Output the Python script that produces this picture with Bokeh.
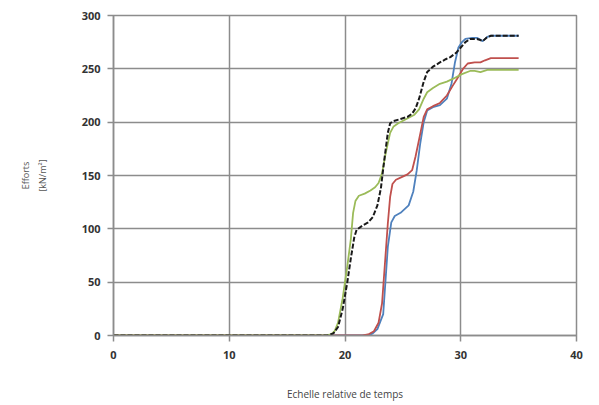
from bokeh.plotting import figure
from bokeh.models import Range1d, FixedTicker, Title
from bokeh.embed import file_html
from bokeh.resources import INLINE

# ---- data ----
x_ticks = [0, 10, 20, 30, 40]
y_ticks = [0, 50, 100, 150, 200, 250, 300]
y_label_lines = ["Efforts", "[kN/m²]"]
x_label = "Echelle relative de temps"

blue_x = [0, 22.0, 22.4, 22.8, 23.3, 23.7, 24.0, 24.3, 24.8, 25.5, 25.9, 26.2, 26.5, 26.8, 27.1, 27.6, 28.2, 28.8, 29.2, 29.5, 29.8, 30.1, 30.4, 31.0, 31.4, 31.9, 32.3, 32.6, 35]
blue_y = [0, 0, 2, 6, 20, 83, 106, 112, 115, 122, 135, 155, 180, 200, 211, 214, 216, 222, 236, 256, 270, 275, 278, 279, 279, 276, 280, 281, 281]

red_x = [0, 21.5, 22.0, 22.5, 22.9, 23.2, 23.5, 23.7, 23.9, 24.1, 24.4, 24.8, 25.4, 25.8, 26.1, 26.5, 26.8, 27.1, 27.6, 28.2, 28.8, 29.3, 29.7, 30.2, 30.6, 31.2, 31.7, 32.1, 32.6, 35]
red_y = [0, 0, 1, 4, 12, 30, 75, 105, 130, 142, 146, 148, 151, 155, 168, 189, 205, 212, 215, 218, 225, 234, 241, 250, 255, 256, 256, 258, 260, 260]

green_x = [0, 18.3, 18.8, 19.1, 19.4, 19.8, 20.2, 20.5, 20.7, 20.9, 21.2, 21.7, 22.2, 22.6, 22.9, 23.2, 23.5, 23.9, 24.2, 24.6, 25.3, 26.0, 26.4, 26.8, 27.1, 27.6, 28.2, 28.8, 29.4, 30.1, 30.8, 31.2, 31.7, 32.3, 35]
green_y = [0, 0, 1, 4, 12, 35, 65, 90, 115, 126, 131, 133, 136, 139, 143, 152, 170, 190, 196, 199, 203, 207, 212, 222, 228, 232, 236, 238, 241, 245, 248, 248, 247, 249, 249]

black_x = [0, 18.5, 19.0, 19.4, 19.8, 20.2, 20.5, 20.8, 21.0, 21.5, 22.0, 22.4, 22.8, 23.1, 23.4, 23.7, 23.9, 24.2, 24.8, 25.4, 25.8, 26.1, 26.4, 26.8, 27.1, 27.6, 28.2, 28.7, 29.1, 29.6, 30.0, 30.4, 30.8, 31.4, 31.7, 31.9, 32.2, 32.6, 35]
black_y = [0, 0, 2, 8, 25, 50, 72, 92, 99, 103, 106, 111, 122, 138, 165, 190, 199, 201, 203, 205, 208, 213, 222, 238, 247, 252, 256, 259, 261, 265, 270, 275, 278, 278, 277, 276, 279, 281, 281]

p = figure(width=599, height=405, output_backend="svg", toolbar_location=None,
           x_range=Range1d(0, 40), y_range=Range1d(0, 300),
           min_border_left=113, min_border_right=23, min_border_top=15, min_border_bottom=70)

p.background_fill_color = "white"
p.border_fill_color = "white"
p.outline_line_color = "#8c8c8c"
p.outline_line_width = 1.5

for ax in (p.xaxis[0], p.yaxis[0]):
    ax.axis_line_color = "#8c8c8c"
    ax.axis_line_width = 1.5
    ax.major_tick_line_color = "#8c8c8c"
    ax.major_tick_line_width = 1.5
    ax.major_tick_out = 6
    ax.major_tick_in = 0
    ax.minor_tick_line_color = None
    ax.major_label_text_font = "Open Sans"
    ax.major_label_text_font_size = "11px"
    ax.major_label_text_font_style = "bold"
    ax.major_label_text_color = "#333333"
    ax.axis_label_text_font = "Open Sans"
    ax.axis_label_text_font_style = "normal"

p.xaxis.ticker = FixedTicker(ticks=x_ticks)
p.yaxis.ticker = FixedTicker(ticks=y_ticks)
p.xaxis.major_label_standoff = 9
p.yaxis.major_label_standoff = 7
p.xaxis.axis_label = x_label
p.xaxis.axis_label_standoff = 25
p.xaxis.axis_label_text_font_size = "10px"
p.xaxis.axis_label_text_color = "#444444"

# second line of the y title as the axis label, first line as a left Title
p.yaxis.axis_label = y_label_lines[1]
p.yaxis.axis_label_standoff = 30
p.yaxis.axis_label_text_font_size = "9px"
p.yaxis.axis_label_text_color = "#555555"
p.add_layout(Title(text=y_label_lines[0], align="center", standoff=2,
                   text_font="Open Sans", text_font_size="9px",
                   text_font_style="normal", text_color="#555555"), "left")

p.xgrid.ticker = FixedTicker(ticks=x_ticks)
p.ygrid.ticker = FixedTicker(ticks=y_ticks)
p.xgrid.grid_line_color = "#8c8c8c"
p.ygrid.grid_line_color = "#8c8c8c"
p.xgrid.grid_line_width = 1.5
p.ygrid.grid_line_width = 1.5

p.line(blue_x, blue_y, line_color="#4F81BD", line_width=1.8)
p.line(red_x, red_y, line_color="#C0504D", line_width=1.8)
p.line(green_x, green_y, line_color="#9BBB59", line_width=1.8)
p.line(black_x, black_y, line_color="#1a1a1a", line_width=2, line_dash="5 2")

open("out.html", "w").write(file_html(p, INLINE))
